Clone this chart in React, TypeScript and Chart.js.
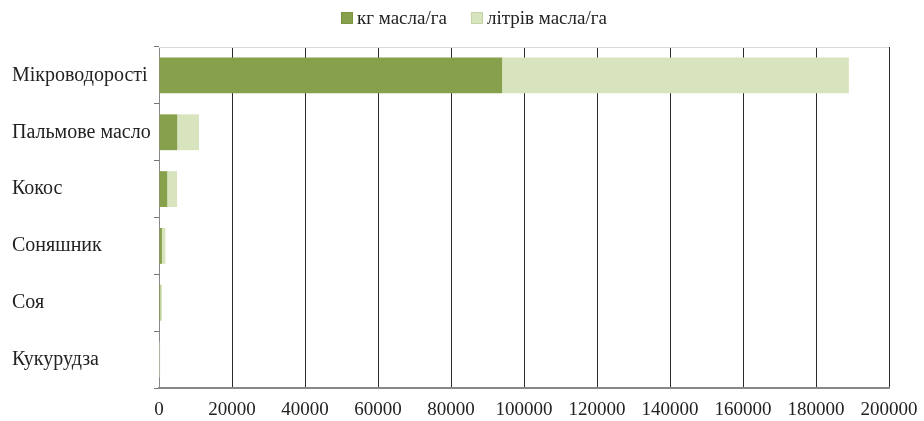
import React, { useEffect, useRef } from "react";
import { Chart, registerables } from "chart.js";

Chart.register(...registerables);

// Oil yield per crop
const crops = ["Мікроводорості", "Пальмове масло", "Кокос", "Соняшник", "Соя", "Кукурудза"];
const kgPerHa = [94000, 5000, 2260, 800, 375, 145];
const litresPerHa = [95000, 5950, 2689, 952, 446, 172];
const seriesNames = ["кг масла/га", "літрів масла/га"];
const xTicks = [0, 20000, 40000, 60000, 80000, 100000, 120000, 140000, 160000, 180000, 200000];
const seriesColors = ["#86a04c", "#d7e4bd"];

const FONT = "'Liberation Serif', 'Times New Roman', serif";

// Light frame line along the top of the plot area
const topBorder = {
  id: "topBorder",
  afterDraw(chart: any) {
    const { ctx, chartArea } = chart;
    ctx.save();
    ctx.strokeStyle = "#d9d9d9";
    ctx.lineWidth = 1;
    ctx.beginPath();
    ctx.moveTo(chartArea.left, chartArea.top + 0.5);
    ctx.lineTo(chartArea.right, chartArea.top + 0.5);
    ctx.stroke();
    ctx.restore();
  },
};

// Compact legend: square swatch followed closely by the series name, above the plot
const compactLegend = {
  id: "compactLegend",
  afterDraw(chart: any) {
    const { ctx } = chart;
    const box = 12;
    const gap = 4;
    const itemGap = 24;
    const cy = 18;
    ctx.save();
    ctx.font = `19px ${FONT}`;
    ctx.textBaseline = "middle";
    let x = 341;
    chart.data.datasets.forEach((d: any, i: number) => {
      ctx.fillStyle = d.backgroundColor;
      ctx.fillRect(x, cy - box / 2, box, box);
      ctx.strokeStyle = i === 0 ? "#7a9444" : "#c5d6a6";
      ctx.lineWidth = 1;
      ctx.strokeRect(x + 0.5, cy - box / 2 + 0.5, box - 1, box - 1);
      ctx.fillStyle = "#222";
      ctx.fillText(d.label, x + box + gap, cy + 1);
      x += box + gap + ctx.measureText(d.label).width + itemGap;
    });
    ctx.restore();
  },
};

export default function App() {
  const canvasRef = useRef<HTMLCanvasElement | null>(null);

  useEffect(() => {
    if (!canvasRef.current) return;
    const chart = new Chart(canvasRef.current, {
      type: "bar",
      data: {
        labels: crops,
        datasets: [
          {
            label: seriesNames[0],
            data: kgPerHa,
            backgroundColor: seriesColors[0],
            borderWidth: 0,
            categoryPercentage: 0.63,
            barPercentage: 1,
          },
          {
            label: seriesNames[1],
            data: litresPerHa,
            backgroundColor: seriesColors[1],
            borderWidth: 0,
            categoryPercentage: 0.63,
            barPercentage: 1,
          },
        ],
      },
      options: {
        indexAxis: "y",
        animation: false,
        responsive: false,
        maintainAspectRatio: false,
        layout: { padding: { left: 12, right: 35, top: 47, bottom: 0 } },
        plugins: {
          tooltip: { enabled: false },
          legend: { display: false },
        },
        scales: {
          x: {
            stacked: true,
            min: 0,
            max: 200000,
            afterBuildTicks: (scale: any) => {
              scale.ticks = xTicks.map((v) => ({ value: v }));
            },
            afterFit: (scale: any) => {
              scale.height = 33;
              scale.paddingLeft = 0;
              scale.paddingRight = 0;
            },
            grid: { color: "#2a2a2a", lineWidth: 1, drawTicks: false },
            border: { color: "#888", width: 2 },
            ticks: {
              font: { family: FONT, size: 19 },
              color: "#222",
              padding: 11,
              maxRotation: 0,
              autoSkip: false,
              callback: (v: any) => String(v),
            },
          },
          y: {
            stacked: true,
            afterFit: (scale: any) => {
              scale.width = 147;
            },
            grid: { drawOnChartArea: false, drawTicks: true, tickLength: 5, color: "#777", offset: true },
            border: { color: "#888", width: 1 },
            ticks: {
              font: { family: FONT, size: 20 },
              color: "#222",
              crossAlign: "far",
              padding: 6,
            },
          },
        },
      },
      plugins: [topBorder, compactLegend],
    });
    return () => chart.destroy();
  }, []);

  return (
    <div style={{ position: "fixed", left: 0, top: 0, width: 924, height: 421, background: "#fff" }}>
      <canvas ref={canvasRef} width={924} height={421} />
    </div>
  );
}
